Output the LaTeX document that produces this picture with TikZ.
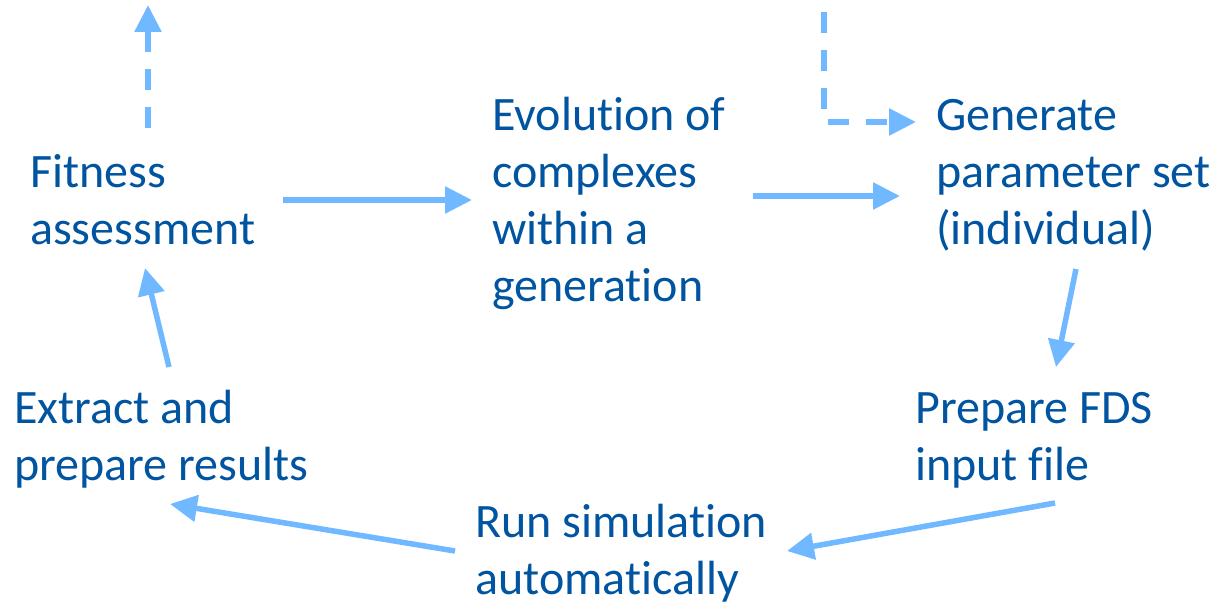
\documentclass[tikz,border=0pt]{standalone}
\usepackage{fontspec}
\setmainfont{Carlito}[Ligatures={NoCommon,NoContextual}]
\usetikzlibrary{arrows.meta}
\definecolor{txtblue}{RGB}{0,84,160}
\definecolor{arrblue}{RGB}{112,184,255}
\tikzset{
  lbl/.style={anchor=base west, inner sep=0pt, align=left, text=txtblue,
    font=\fontsize{48}{57}\selectfont},
  arr/.style={draw=arrblue, line width=5.5pt,
    -{Triangle[length=27pt,width=26pt]}},
  dsh/.style={arr, dash pattern=on 21pt off 17pt}
}
\begin{document}
\begin{tikzpicture}[x=1pt,y=-1pt]
\useasboundingbox (0,0) rectangle (1215,604);
% base anchor = baseline of the last line
\node[lbl] (fit) at (30,244) {Fitness\\assessment};
\node[lbl] (evo) at (492,301) {Evolution of\\complexes\\within a\\generation};
\node[lbl] (gen) at (936,244) {Generate\\parameter set\\(individual)};
\node[lbl] (fds) at (915,480) {Prepare FDS\\input file};
\node[lbl] (ext) at (14,480) {Extract and\\prepare results};
\node[lbl] (run) at (475,594) {Run simulation\\automatically};
% free ends of the dashed connectors
\coordinate (upend) at (148,5);
\coordinate (topin) at (824,10);
\draw[dsh] ([shift={(118,-116)}]fit.base west) -- (upend);
\draw[dsh, dash phase=-2pt] (topin) |- ([shift={(-20,-122)}]gen.base west);
\draw[arr] ([shift={(253,-44)}]fit.base west) -- ([shift={(-20,-101)}]evo.base west);
\draw[arr] ([shift={(261,-105)}]evo.base west) -- ([shift={(-36,-48)}]gen.base west);
\draw[arr] ([shift={(140,25)}]gen.base west) -- ([shift={(141,-113)}]fds.base west);
\draw[arr] ([shift={(140,23)}]fds.base west) -- ([shift={(312,-43)}]run.base west);
\draw[arr] ([shift={(-20,-43)}]run.base west) -- ([shift={(156,24)}]ext.base west);
\draw[arr] ([shift={(155,-113)}]ext.base west) -- ([shift={(115,24)}]fit.base west);
\end{tikzpicture}
\end{document}
